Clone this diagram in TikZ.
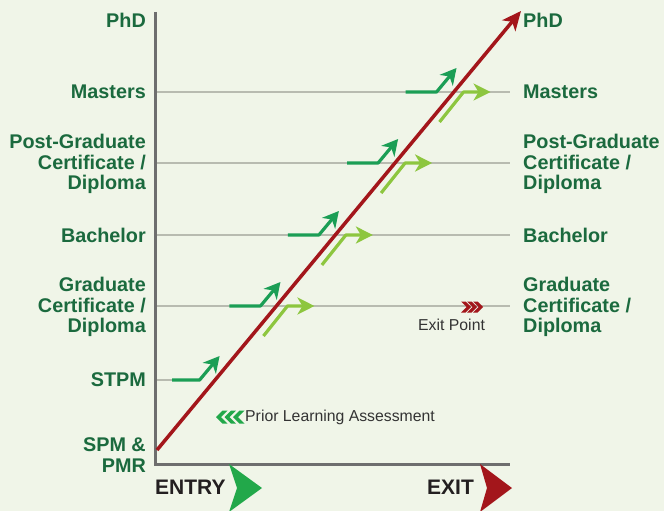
\documentclass[tikz,border=0pt]{standalone}
\usepackage{fontspec}
\setmainfont{Liberation Sans}
\usetikzlibrary{arrows.meta}
\definecolor{bgcol}{HTML}{F0F5E8}
\definecolor{labelgreen}{HTML}{1B6A3E}
\definecolor{dgreen}{HTML}{1B9E55}
\definecolor{lgreen}{HTML}{8DC63F}
\definecolor{egreen}{HTML}{22A84A}
\definecolor{dred}{HTML}{A3161B}
\definecolor{axisgray}{HTML}{6E6E6E}
\definecolor{levgray}{HTML}{B8BBB0}
\definecolor{txtgray}{HTML}{333333}
\definecolor{darktxt}{HTML}{231F20}
\begin{document}
\begin{tikzpicture}[x=1pt,y=-1pt,
  lvl/.style={font=\fontsize{19.8}{20.5}\selectfont\bfseries, text=labelgreen, inner sep=0pt},
  leftlbl/.style={lvl, anchor=east, align=right},
  rightlbl/.style={lvl, anchor=west, align=left},
  levline/.style={draw=levgray, line width=1.5pt},
  entryarr/.style={draw=dgreen, line width=3.2pt, line join=round, -{Stealth[length=16pt,width=17pt,inset=5pt]}},
  exitarr/.style={draw=lgreen, line width=3.2pt, line join=round, -{Stealth[length=17pt,width=17pt,inset=5pt]}},
  mainarr/.style={draw=dred, line width=3.5pt, -{Stealth[length=19pt,width=17pt,inset=5pt]}},
  smalltxt/.style={font=\fontsize{15.8}{17}\selectfont, text=txtgray, inner sep=0pt},
  bigtxt/.style={font=\fontsize{21}{23}\selectfont\bfseries, text=darktxt, inner sep=0pt}
]
\useasboundingbox (0,0) rectangle (664,511);
\fill[bgcol] (0,0) rectangle (664,511);

% level lines
\foreach \y/\n in {92/m,163/p,235/b,306/g}{
  \coordinate (la\n) at (156,\y);
  \coordinate (le\n) at (510,\y);
  \draw[levline] (la\n) -- (le\n);
}
\coordinate (las) at (156,380);
\coordinate (les) at (172,380);
\draw[levline] (las) -- (les);

% axes
\coordinate (atop) at (155.5,12);
\coordinate (aorg) at (155.5,464);
\coordinate (aend) at (510,464);
\draw[draw=axisgray, line width=3pt] (atop) -- (aorg) -- (aend);

% main red arrow
\coordinate (rs) at (157,450);
\coordinate (rt) at (521,11);
\draw[mainarr] (rs) -- (rt);

% entry / exit arrows
\foreach \y/\n in {92/m,163/p,235/b,306/g}{
  \pgfmathsetmacro{\xr}{157+(450-\y)*0.8227}
  \coordinate (ds\n) at (\xr-46,\y);
  \coordinate (dc\n) at (\xr-15,\y);
  \coordinate (dt\n) at (\xr+5,\y-24);
  \draw[entryarr] (ds\n) -- (dc\n) -- (dt\n);
  \coordinate (ls\n) at (\xr-12,\y+30);
  \coordinate (lc\n) at (\xr+12,\y);
  \coordinate (lt\n) at (\xr+39,\y);
  \draw[exitarr] (ls\n) -- (lc\n) -- (lt\n);
}
\pgfmathsetmacro{\xs}{157+(450-380)*0.8227}
\coordinate (dss) at (172,380);
\coordinate (dcs) at (\xs-15,380);
\coordinate (dts) at (\xs+5,356);
\draw[entryarr] (dss) -- (dcs) -- (dts);

% left labels
\node[leftlbl] (Lphd) at (146,20) {PhD};
\node[leftlbl] (Lmas) at (146,92) {Masters};
\node[leftlbl] (Lpg) at (146,164) {Post-Graduate\\Certificate /\\Diploma};
\node[leftlbl] (Lbac) at (146,235) {Bachelor};
\node[leftlbl] (Lgr) at (146,307) {Graduate\\Certificate /\\Diploma};
\node[leftlbl] (Lstpm) at (146,380) {STPM};
\node[leftlbl] (Lspm) at (146,455) {SPM \&\\PMR};

% right labels
\node[rightlbl] (Rphd) at (523,20) {PhD};
\node[rightlbl] (Rmas) at (523,92) {Masters};
\node[rightlbl] (Rpg) at (523,164) {Post-Graduate\\Certificate /\\Diploma};
\node[rightlbl] (Rbac) at (523,235) {Bachelor};
\node[rightlbl] (Rgr) at (523,307) {Graduate\\Certificate /\\Diploma};

% prior learning legend
\foreach \i in {0,1,2}{
  \fill[egreen] ({216+\i*8.5},417) -- ({222.5+\i*8.5},410.5) -- ({227.5+\i*8.5},410.5) -- ({221+\i*8.5},417) -- ({227.5+\i*8.5},423.5) -- ({222.5+\i*8.5},423.5) -- cycle;
}
\node[smalltxt, anchor=west] (pla) at (245,417) {Prior Learning Assessment};

% exit point
\foreach \i in {0,1,2}{
  \fill[dred] ({461+\i*6},301.5) -- ({465.5+\i*6},301.5) -- ({471+\i*6},307) -- ({465.5+\i*6},312.5) -- ({461+\i*6},312.5) -- ({466.5+\i*6},307) -- cycle;
}
\node[smalltxt, anchor=west] (ep) at (418,325) {Exit Point};

% entry / exit footer
\node[bigtxt, anchor=west] (entry) at (155,487) {ENTRY};
\fill[egreen] (229,464) -- (262,488) -- (229,512) -- (237,488) -- cycle;
\node[bigtxt, anchor=west] (exit) at (427,487) {EXIT};
\fill[dred] (480,464) -- (512,488) -- (480,512) -- (487,488) -- cycle;
\end{tikzpicture}
\end{document}
